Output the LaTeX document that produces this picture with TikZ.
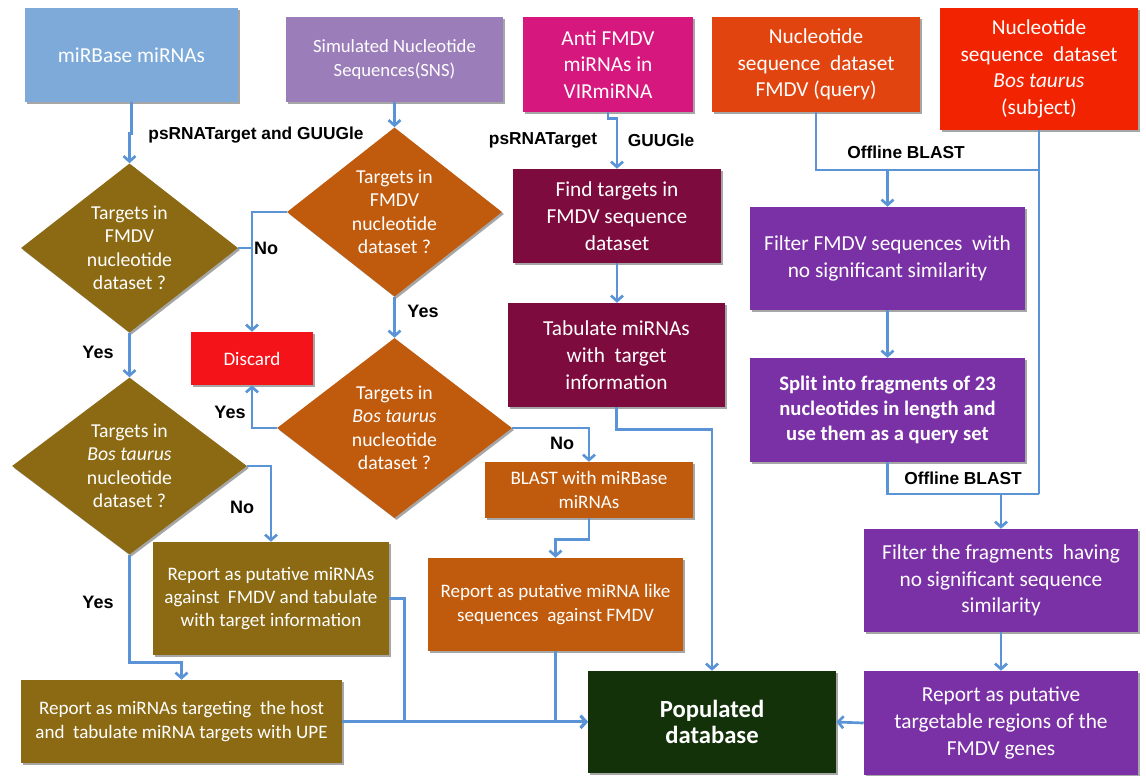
\documentclass[tikz,border=0pt]{standalone}
\usepackage{fontspec}
\setmainfont{Carlito}
\newfontfamily\lblfont{Liberation Sans}
\usetikzlibrary{shapes.geometric,arrows.meta,shadows,calc}
\definecolor{cblue}{HTML}{7DAAD9}
\definecolor{csns}{HTML}{9B7DBA}
\definecolor{canti}{HTML}{D6187E}
\definecolor{cnucq}{HTML}{E2440F}
\definecolor{cnucs}{HTML}{F22300}
\definecolor{colive}{HTML}{8B6A13}
\definecolor{corange}{HTML}{C05A0D}
\definecolor{cmaroon}{HTML}{7E0B3D}
\definecolor{cgreen}{HTML}{133209}
\definecolor{cpurple}{HTML}{7B31A6}
\definecolor{cdiscard}{HTML}{F5131A}
\definecolor{lineblue}{HTML}{5A94D6}
\tikzset{
  box/.style={rectangle, align=center, text=white, inner sep=2pt,
    drop shadow={shadow xshift=1.5pt, shadow yshift=-1.5pt, opacity=0.35, fill=black}},
  big/.style={font=\fontsize{16}{20}\selectfont},
  small/.style={font=\fontsize{14.3}{17.5}\selectfont},
  sz/.style 2 args={minimum width=#1*0.75pt, minimum height=#2*0.75pt},
  dia/.style={diamond, align=center, text=white, inner sep=0pt,
    font=\fontsize{14.8}{17.6}\selectfont,
    drop shadow={shadow xshift=1.5pt, shadow yshift=-1.5pt, opacity=0.35, fill=black}},
  ln/.style={draw=lineblue, line width=2pt},
  arr/.style={ln, -{Straight Barb[length=4pt,width=9pt]}},
  lbl/.style={font=\lblfont\bfseries\fontsize{13}{15}\selectfont, text=black, inner sep=1pt},
  yn/.style={font=\lblfont\bfseries\fontsize{13.5}{15}\selectfont, text=black, inner sep=1pt},
}
\begin{document}
\begin{tikzpicture}[x=0.75pt,y=-0.75pt]
\useasboundingbox (0,0) rectangle (1146,775);
\fill[white] (0,0) rectangle (1146,775);
% top row
\node[box, big, sz={213}{94}, fill=cblue] (mirbase) at (131.5,55) {miRBase miRNAs};
\node[box, font=\fontsize{14}{18}\selectfont, sz={217}{85}, fill=csns] (sns) at (394.5,59.5) {Simulated Nucleotide\\Sequences(SNS)};
\node[box, big, sz={170}{95}, fill=canti] (anti) at (608,64.5) {Anti FMDV\\miRNAs in\\VIRmiRNA};
\node[box, big, sz={208}{95}, fill=cnucq] (nucq) at (816,64.5) {Nucleotide\\sequence\ \ dataset\\FMDV (query)};
\node[box, big, sz={198}{122}, fill=cnucs] (nucs) at (1039,69) {Nucleotide\\sequence\ \ dataset\\\textit{Bos taurus}\\(subject)};
% diamonds
\node[dia, sz={217}{160}, fill=colive] (d1) at (129.5,248) {Targets in\\FMDV\\nucleotide\\dataset ?};
\node[dia, sz={215}{160}, fill=corange] (d2) at (394.5,212) {Targets in\\FMDV\\nucleotide\\dataset ?};
\node[dia, sz={235}{180}, fill=corange] (d3) at (394.5,428) {Targets in\\\textit{Bos taurus}\\nucleotide\\dataset ?};
\node[dia, sz={235}{177}, fill=colive] (d4) at (129.5,466) {Targets in\\\textit{Bos taurus}\\nucleotide\\dataset ?};
% middle
\node[box, small, sz={122}{53}, fill=cdiscard] (discard) at (252,358.5) {Discard};
\node[box, big, sz={208}{94}, fill=cmaroon] (find) at (617,216) {Find targets in\\FMDV sequence\\dataset};
\node[box, big, sz={217}{104}, fill=cmaroon] (tab) at (616.5,355) {Tabulate miRNAs\\with\ \ target\\information};
\node[box, small, sz={208}{56}, fill=corange] (blast) at (589,490) {BLAST with miRBase\\miRNAs};
\node[box, small, sz={255}{93}, fill=corange] (rep2) at (555.5,604.5) {Report as putative miRNA like\\sequences\ \ against FMDV};
\node[box, small, sz={236}{113}, fill=colive] (rep1) at (271,598.5) {Report as putative miRNAs\\against\ \ FMDV and tabulate\\with target information};
\node[box, small, sz={321}{83}, fill=colive] (rephost) at (181.5,721.5) {Report as miRNAs targeting\ \ the host\\and\ \ tabulate miRNA targets with UPE};
\node[box, font=\bfseries\fontsize{18.5}{20}\selectfont, sz={248}{102}, fill=cgreen] (pop) at (712,722) {Populated\\database};
% right column
\node[box, big, sz={275}{103}, fill=cpurple] (filt1) at (887.5,258.5) {Filter FMDV sequences\ \ with\\no significant similarity};
\node[box, font=\bfseries\fontsize{15.5}{19}\selectfont, sz={275}{104}, fill=cpurple] (split) at (887.5,410) {Split into fragments of 23\\nucleotides in length and\\use them as a query set};
\node[box, big, sz={274}{103}, fill=cpurple] (filt2) at (1001,580.5) {Filter the fragments\ \ having\\no significant sequence\\similarity};
\node[box, big, sz={274}{104}, fill=cpurple] (rep3) at (1001,723) {Report as putative\\targetable regions of the\\FMDV genes};
% helper coordinates
\coordinate (y170) at (0,170);
\coordinate (y494) at (0,494);
% connectors left part
\draw[arr] (mirbase.south) -- ++(0,31) -| (d1.north);
\draw[arr] (sns.south) -- (d2.north);
\draw[arr] (d2.west) -- (d2.west -| discard.north) -- (discard.north);
\draw[ln] (d1.east) -- (d1.east -| discard.north);
\draw[arr] (d2.south) -- (d3.north);
\draw[arr] (d1.south) -- (d4.north);
\draw[arr] (d3.west) -- (d3.west -| discard.south) -- (discard.south);
\draw[arr] (d3.east) -| (blast.north);
\draw[arr] (blast.south) -- ++(0,21) -| (rep2.north);
\draw[arr] (d4.east) -| (rep1.north);
\draw[arr] (d4.south) -- ++(0,108) -| (rephost.north);
\draw[arr] (rep1.east) -- ++(15,0) |- (pop.west);
\draw[arr] (rephost.east) -- (rephost.east -| pop.west);
\draw[arr] (rep2.south) |- (pop.west);
% middle column
\draw[arr] (anti.south) -- ++(0,6) -| (find.north);
\draw[arr] (find.south) -- (find.south |- tab.north);
\draw[arr] (tab.south) -- ++(0,22) -| (pop.north);
% right column
\draw[ln] (nucq.south) |- (nucs.south |- y170);
\draw[ln] (nucs.south) -- (nucs.south |- y494);
\draw[arr] (filt1.north |- y170) -- (filt1.north);
\draw[arr] (filt1.south) -- (split.north);
\draw[ln] (split.south) |- (nucs.south |- y494);
\draw[arr] (filt2.north |- y494) -- (filt2.north);
\draw[arr] (filt2.south) -- (rep3.north);
\draw[arr] (rep3.west) -- (pop.east);
% labels
\node[lbl] (l1) at (256,135) {psRNATarget and GUUGle};
\node[yn] (l2) at (266,248) {No};
\node[yn] (l3) at (423,311) {Yes};
\node[yn] (l4) at (98,352) {Yes};
\node[yn] (l5) at (230,412) {Yes};
\node[yn] (l6) at (562,443) {No};
\node[yn] (l7) at (242,507) {No};
\node[yn] (l8) at (98,602) {Yes};
\node[lbl] (l9) at (543,140) {psRNATarget};
\node[lbl] (l10) at (661,140) {GUUGle};
\node[lbl] (l11) at (906,152) {Offline BLAST};
\node[lbl] (l12) at (963,478) {Offline BLAST};
\end{tikzpicture}
\end{document}
